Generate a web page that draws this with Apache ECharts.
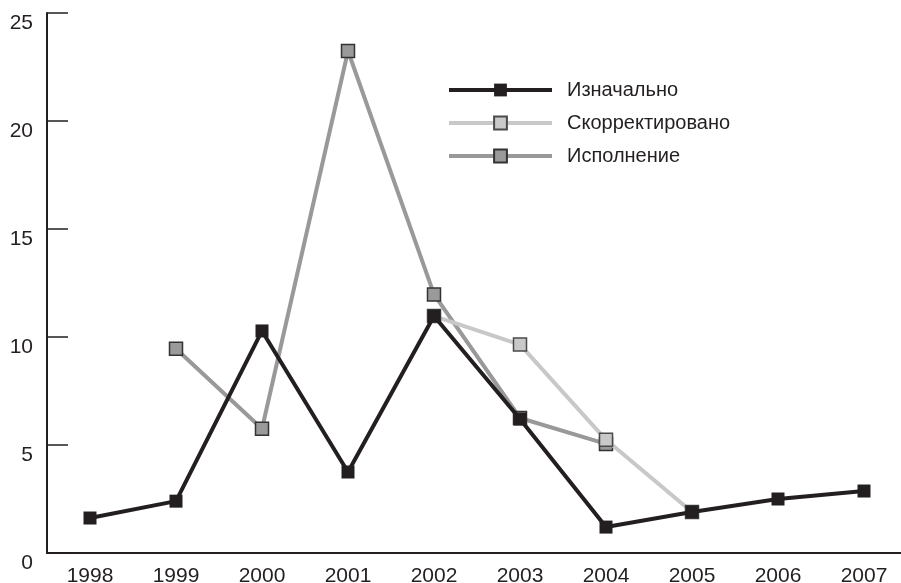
<!DOCTYPE html>
<html>
<head>
<meta charset="utf-8">
<script src="https://cdn.jsdelivr.net/npm/echarts@6/dist/echarts.min.js"></script>
<style>
  html, body { margin: 0; padding: 0; background: #fff; }
  #chart { width: 901px; height: 583px; }
</style>
</head>
<body>
<div id="chart"></div>
<script>
var years = ['1998', '1999', '2000', '2001', '2002', '2003', '2004', '2005', '2006', '2007']
// Изначально
var initial = [1.62, 2.4, 10.28, 3.75, 10.97, 6.2, 1.2, 1.9, 2.5, 2.87]
// Скорректировано
var corrected = [null, null, null, null, 10.97, 9.65, 5.24, 1.9, null, null]
// Исполнение
var executed = [null, 9.46, 5.75, 23.24, 11.97, 6.25, 5.05, null, null, null]

var chartDom = document.getElementById('chart')
var myChart = echarts.init(chartDom)
var font = 'Liberation Sans, Arial, sans-serif'

var option = {
  animation: false,
  backgroundColor: '#fff',
  grid: {
    left: 47,
    top: 13,
    right: -6,
    bottom: 30,
    containLabel: false,
    outerBoundsMode: 'none'
  },
  legend: {
    data: ['Изначально', 'Скорректировано', 'Исполнение'],
    orient: 'vertical',
    left: 447,
    top: 80,
    padding: 0,
    itemWidth: 103,
    itemHeight: 16,
    itemGap: 13,
    lineStyle: { width: 4 },
    textStyle: {
      fontFamily: font,
      fontSize: 20,
      color: '#231f20',
      padding: [0, 0, 0, 10]
    }
  },
  xAxis: {
    type: 'category',
    data: years,
    boundaryGap: true,
    axisLine: { lineStyle: { color: '#231f20', width: 2 } },
    axisTick: { inside: true, length: 13, lineStyle: { color: '#231f20', width: 1.5 } },
    axisLabel: { fontFamily: font, fontSize: 21, color: '#231f20', margin: 13 },
    splitLine: { show: false }
  },
  yAxis: {
    type: 'value',
    min: 0,
    max: 25,
    interval: 5,
    axisLine: { show: true, lineStyle: { color: '#231f20', width: 2 } },
    axisTick: { show: true, inside: true, length: 21, lineStyle: { color: '#231f20', width: 1.5 } },
    axisLabel: {
      fontFamily: font, fontSize: 21, color: '#231f20', margin: 14,
      verticalAlign: 'top', padding: [0, 0, 0, 0]
    },
    splitLine: { show: false }
  },
  series: [
    {
      name: 'Изначально',
      type: 'line',
      data: initial,
      z: 4,
      symbol: 'rect',
      symbolSize: 13,
      connectNulls: false,
      lineStyle: { color: '#231f20', width: 4 },
      itemStyle: { color: '#231f20', borderColor: '#231f20', borderWidth: 0 }
    },
    {
      name: 'Скорректировано',
      type: 'line',
      data: corrected,
      z: 3,
      symbol: 'rect',
      symbolSize: 13,
      lineStyle: { color: '#c8c8c8', width: 4 },
      itemStyle: { color: '#c9c9c9', borderColor: '#4a4a4a', borderWidth: 1.5 }
    },
    {
      name: 'Исполнение',
      type: 'line',
      data: executed,
      z: 2,
      symbol: 'rect',
      symbolSize: 13,
      lineStyle: { color: '#999999', width: 4 },
      itemStyle: { color: '#9a9a9a', borderColor: '#333333', borderWidth: 1.5 }
    }
  ]
}

option && myChart.setOption(option)

window.addEventListener('resize', function () {
  myChart.resize()
})
</script>
</body>
</html>
